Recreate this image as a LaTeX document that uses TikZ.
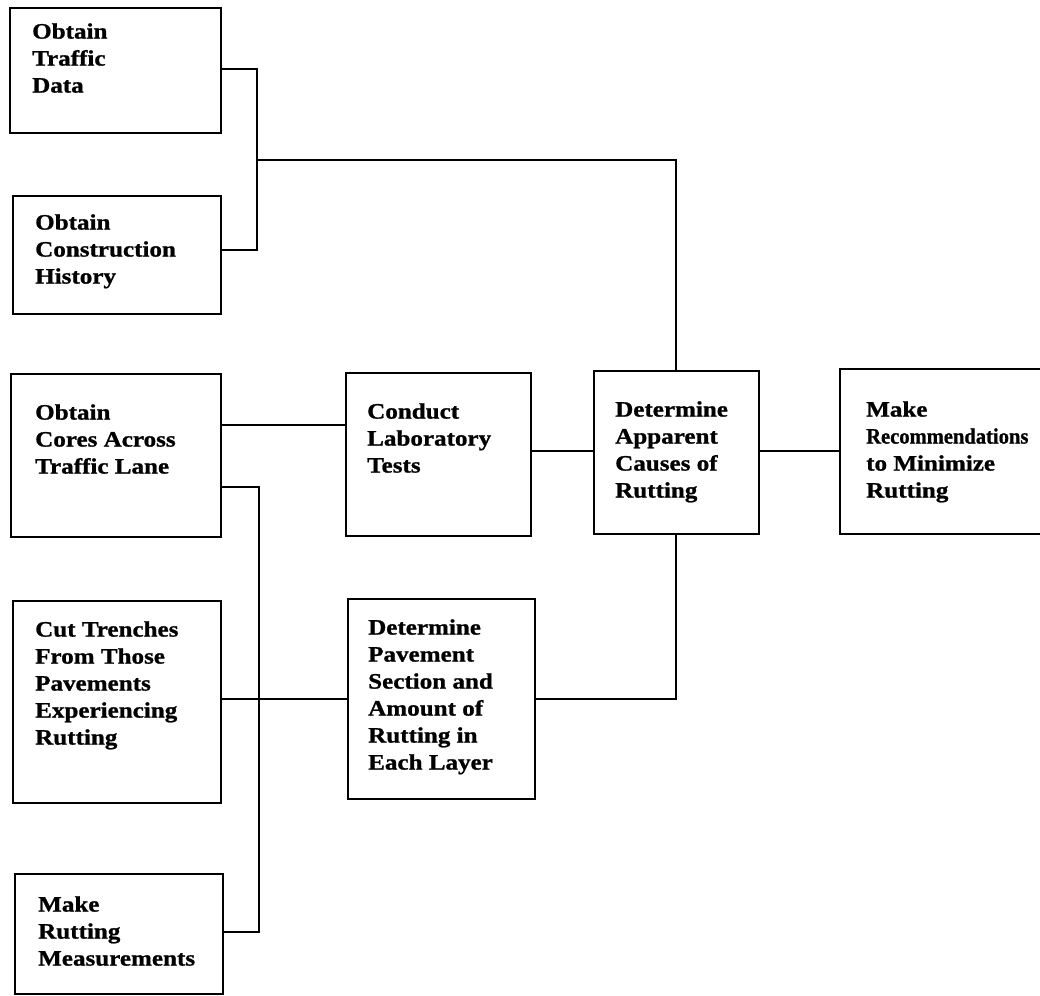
\documentclass[tikz,border=0pt]{standalone}
\usepackage{fontspec}
\usepackage{graphicx}
\newfontfamily\boxfont{Liberation Serif}[FakeStretch=1.14, FakeBold=1]
\begin{document}
\begin{tikzpicture}[x=1pt,y=-1pt,
  box/.style={draw, line width=1.8pt, rectangle, inner sep=0pt, anchor=north west},
  txt/.style={anchor=north west, inner sep=0pt, align=left, yshift=18.9pt,
    font=\fontsize{22}{27}\boxfont\bfseries, execute at begin node=\strut},
  conn/.style={line width=1.8pt, line join=miter}]
\useasboundingbox[fill=white] (0,0) rectangle (1040,995);
% boxes
\node[box, minimum width=211pt, minimum height=125pt] (b1) at (9,7) {};
\node[box, minimum width=208pt, minimum height=118pt] (b2) at (12,195) {};
\node[box, minimum width=210pt, minimum height=163pt] (b3) at (10,373) {};
\node[box, minimum width=208pt, minimum height=202pt] (b4) at (12,600) {};
\node[box, minimum width=208pt, minimum height=120pt] (b5) at (14,873) {};
\node[box, minimum width=185pt, minimum height=163pt] (b6) at (345,372) {};
\node[box, minimum width=187pt, minimum height=200pt] (b7) at (347,598) {};
\node[box, minimum width=165pt, minimum height=163pt] (b8) at (593,370) {};
\node[box, minimum width=215pt, minimum height=165pt] (b9) at (839,368) {};
% texts
\node[txt] (t1) at (32,42) {Obtain\\Traffic\\Data};
\node[txt] (t2) at (35,233) {Obtain\\Construction\\History};
\node[txt] (t3) at (35,423) {Obtain\\Cores Across\\Traffic Lane};
\node[txt] (t4) at (35,640) {Cut Trenches\\From Those\\Pavements\\Experiencing\\Rutting};
\node[txt] (t5) at (38,915) {Make\\Rutting\\Measurements};
\node[txt] (t6) at (367,422) {Conduct\\Laboratory\\Tests};
\node[txt] (t7) at (368,638) {Determine\\Pavement\\Section and\\Amount of\\Rutting in\\Each Layer};
\node[txt] (t8) at (615,420) {Determine\\Apparent\\Causes of\\Rutting};
\node[txt] (t9) at (866,420) {Make\\\scalebox{0.82}[1]{Recommendations}\\to Minimize\\Rutting};
% junction coordinates
\coordinate (j1) at (257,69);
\coordinate (j2) at (257,250);
\coordinate (j3) at (257,160);
\coordinate (j4) at (676,160);
\coordinate (j5) at (259,487);
\coordinate (j6) at (259,932);
\coordinate (j7) at (676,699);
% connectors
\draw[conn] (b1.east |- j1) -- (j1) -- (j2) -- (b2.east |- j2);
\draw[conn] (j3) -- (j4) -- (b8.north -| j4);
\draw[conn] (b3.east |- 0,425) -- (b6.west |- 0,425);
\draw[conn] (b3.east |- j5) -- (j5) -- (j6) -- (b5.east |- j6);
\draw[conn] (b4.east |- j7) -- (b7.west |- j7);
\draw[conn] (b6.east |- 0,451) -- (b8.west |- 0,451);
\draw[conn] (b7.east |- j7) -- (j7) -- (b8.south -| j7);
\draw[conn] (b8.east |- 0,451) -- (b9.west |- 0,451);
\end{tikzpicture}
\end{document}
